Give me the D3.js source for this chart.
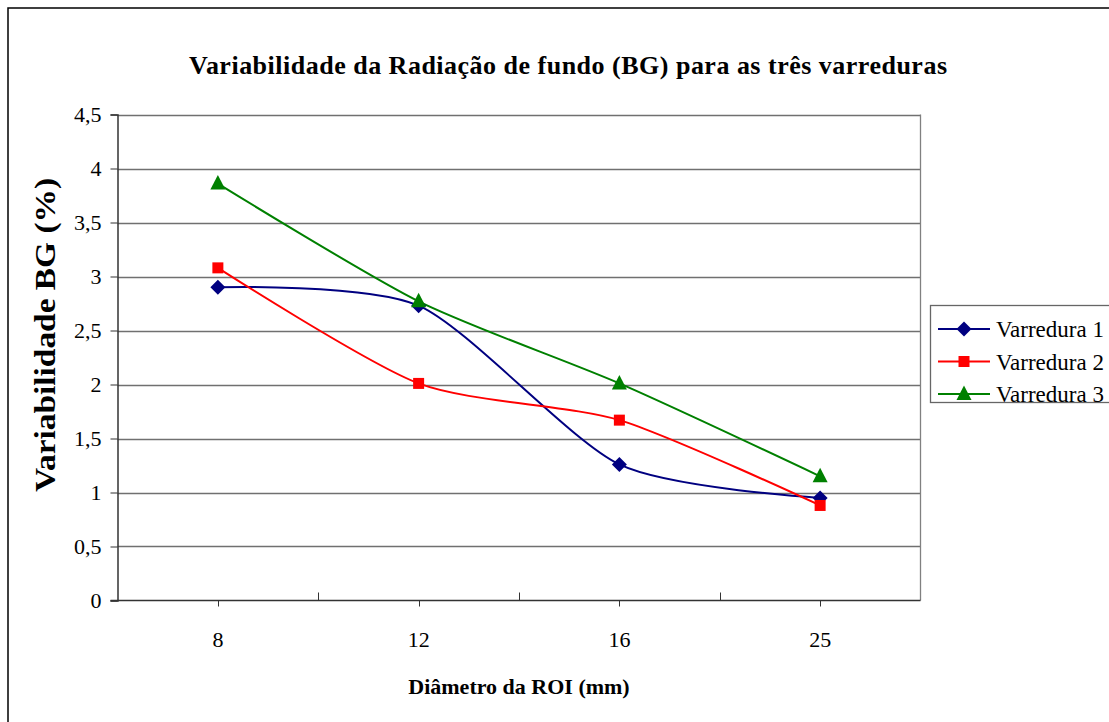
<!DOCTYPE html>
<html>
<head>
<meta charset="utf-8">
<script src="https://cdn.jsdelivr.net/npm/d3@7"></script>
<style>
  html, body { margin: 0; padding: 0; background: #fff; }
  svg { display: block; }
  text { font-family: "Liberation Serif", "Times New Roman", serif; fill: #000; }
</style>
</head>
<body>
<svg id="chart" width="1109" height="722"></svg>
<script>
// ROI diameters (mm) on the category axis
const categories = ["8", "12", "16", "25"];
// Background variability (%) for each scan
const varredura1 = [2.90, 2.73, 1.26, 0.95];
const varredura2 = [3.08, 2.01, 1.67, 0.88];
const varredura3 = [3.86, 2.77, 2.01, 1.15];
const yTicks = [0, 0.5, 1, 1.5, 2, 2.5, 3, 3.5, 4, 4.5];
const seriesNames = ["Varredura 1", "Varredura 2", "Varredura 3"];

const series = [
  { name: seriesNames[0], values: varredura1, color: "#000080", marker: "diamond" },
  { name: seriesNames[1], values: varredura2, color: "#FF0000", marker: "square" },
  { name: seriesNames[2], values: varredura3, color: "#008000", marker: "triangle" }
];

const svg = d3.select("#chart");
const plot = { left: 117.5, right: 920.5, top: 114.5, bottom: 600.5 };
const serif = "Liberation Serif, Times New Roman, serif";

// outer chart frame
svg.append("rect")
  .attr("x", 8).attr("y", 8).attr("width", 1120).attr("height", 730)
  .attr("fill", "#fff").attr("stroke", "#000").attr("stroke-width", 1.5);

const x = d3.scaleBand().domain(categories).range([plot.left, plot.right]).padding(0);
const y = d3.scaleLinear().domain([0, 4.5]).range([plot.bottom, plot.top]);
const fmt = v => String(v).replace(".", ",");

// horizontal gridlines
svg.append("g").selectAll("line").data(yTicks.filter(t => t > 0)).join("line")
  .attr("x1", plot.left).attr("x2", plot.right)
  .attr("y1", d => Math.round(y(d)) + 0.5).attr("y2", d => Math.round(y(d)) + 0.5)
  .attr("stroke", "#707070").attr("stroke-width", 1.3);

// right frame of plot area
svg.append("line")
  .attr("x1", plot.right).attr("x2", plot.right)
  .attr("y1", plot.top).attr("y2", plot.bottom)
  .attr("stroke", "#808080").attr("stroke-width", 1.3);

// y axis
const yAxis = svg.append("g").attr("transform", `translate(${plot.left},0)`)
  .call(d3.axisLeft(y).tickValues(yTicks).tickFormat(fmt).tickSize(7).tickPadding(9));
yAxis.select(".domain").attr("stroke", "#333").attr("stroke-width", 1.5);
yAxis.selectAll(".tick line").attr("stroke", "#333");
yAxis.selectAll(".tick text")
  .style("font-family", serif).style("font-size", "22px").attr("fill", "#000");

// x axis: baseline, category-boundary ticks (upward), centre ticks (downward)
svg.append("line")
  .attr("x1", plot.left - 7).attr("x2", plot.right)
  .attr("y1", plot.bottom).attr("y2", plot.bottom)
  .attr("stroke", "#333").attr("stroke-width", 1.5);
const bounds = categories.map(c => x(c)).slice(1);
svg.append("g").selectAll("line").data(bounds).join("line")
  .attr("x1", d => Math.round(d) + 0.5).attr("x2", d => Math.round(d) + 0.5)
  .attr("y1", plot.bottom - 8).attr("y2", plot.bottom)
  .attr("stroke", "#333").attr("stroke-width", 1);
const cx = c => x(c) + x.bandwidth() / 2;
svg.append("g").selectAll("line").data(categories).join("line")
  .attr("x1", d => Math.round(cx(d)) + 0.5).attr("x2", d => Math.round(cx(d)) + 0.5)
  .attr("y1", plot.bottom).attr("y2", plot.bottom + 6)
  .attr("stroke", "#333").attr("stroke-width", 1);
svg.append("g").selectAll("text").data(categories).join("text")
  .attr("x", d => cx(d)).attr("y", 647)
  .attr("text-anchor", "middle").style("font-size", "22px")
  .text(d => d);

// series lines (smoothed)
const line = d3.line()
  .x((d, i) => cx(categories[i]))
  .y(d => y(d))
  .curve(d3.curveCardinal.tension(0.25));

series.forEach(s => {
  svg.append("path").datum(s.values)
    .attr("d", line)
    .attr("fill", "none").attr("stroke", s.color).attr("stroke-width", 2);
});

function markerPath(type) {
  if (type === "diamond") return "M0,-7.5L7.5,0L0,7.5L-7.5,0Z";
  if (type === "square") return "M-5.5,-5.5H5.5V5.5H-5.5Z";
  return "M0,-8.5L7.5,6L-7.5,6Z";
}

series.forEach(s => {
  svg.append("g").selectAll("path").data(s.values).join("path")
    .attr("transform", (d, i) => `translate(${cx(categories[i])},${y(d)})`)
    .attr("d", markerPath(s.marker))
    .attr("fill", s.color);
});

// title
svg.append("text")
  .attr("x", 568).attr("y", 74)
  .attr("text-anchor", "middle")
  .attr("textLength", 758).attr("lengthAdjust", "spacing")
  .style("font-size", "26px").style("font-weight", "bold")
  .text("Variabilidade da Radiação de fundo (BG) para as três varreduras");

// axis titles
svg.append("text")
  .attr("transform", "translate(55,335) rotate(-90)")
  .attr("text-anchor", "middle")
  .attr("textLength", 314).attr("lengthAdjust", "spacingAndGlyphs")
  .style("font-size", "30px").style("font-weight", "bold")
  .text("Variabilidade BG (%)");

svg.append("text")
  .attr("x", 519).attr("y", 694)
  .attr("text-anchor", "middle")
  .style("font-size", "22px").style("font-weight", "bold")
  .text("Diâmetro da ROI (mm)");

// legend
const lg = svg.append("g");
lg.append("rect")
  .attr("x", 930.5).attr("y", 305.5).attr("width", 200).attr("height", 97)
  .attr("fill", "#fff").attr("stroke", "#666").attr("stroke-width", 1.3);
series.forEach((s, i) => {
  const ly = 329 + i * 32.5;
  lg.append("line")
    .attr("x1", 938).attr("x2", 990).attr("y1", ly).attr("y2", ly)
    .attr("stroke", s.color).attr("stroke-width", 2);
  lg.append("path")
    .attr("transform", `translate(964,${ly})`)
    .attr("d", markerPath(s.marker)).attr("fill", s.color);
  lg.append("text")
    .attr("x", 996).attr("y", ly + 8)
    .style("font-size", "23px")
    .text(s.name);
});
</script>
</body>
</html>
